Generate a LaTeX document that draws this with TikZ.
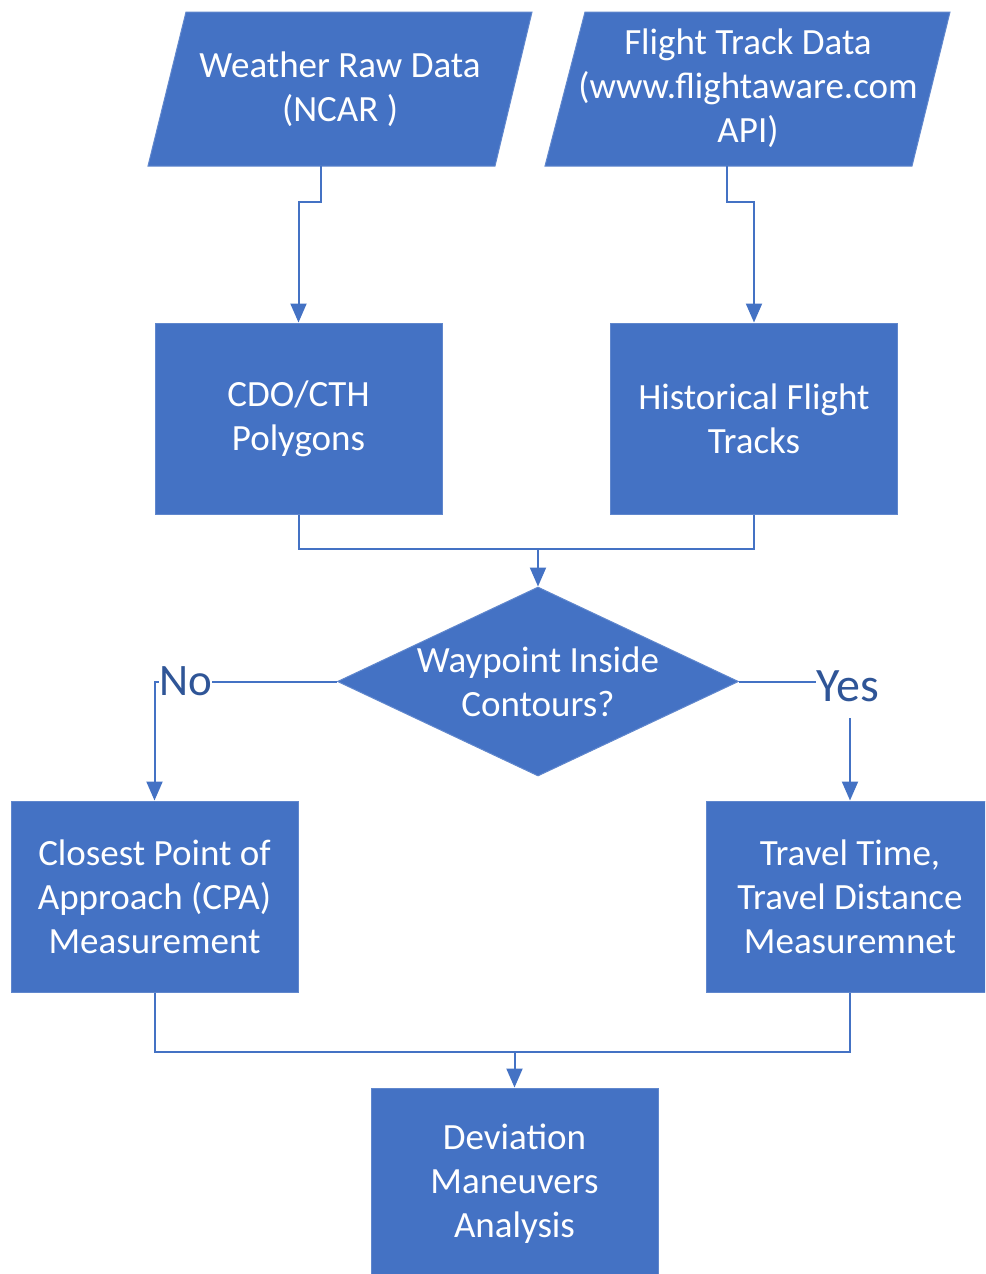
\documentclass[tikz,border=0pt]{standalone}
\usepackage{fontspec}
\setmainfont{Carlito}
\usetikzlibrary{arrows.meta,shapes.geometric}
\definecolor{oblue}{HTML}{4472C4}
\definecolor{lblue}{HTML}{2F5597}
\begin{document}
\begin{tikzpicture}[x=1pt,y=-1pt,
  shapefill/.style={fill=oblue,draw=oblue!85!white,line width=1},
  box/.style={shapefill,rectangle,minimum width=287,minimum height=191,inner sep=0,
     text=white,align=center,font=\fontsize{37}{44}\selectfont},
  txt/.style={text=white,align=center,inner sep=0,font=\fontsize{37}{44}\selectfont},
  conn/.style={draw=oblue,line width=2},
  arr/.style={conn,-{Triangle[length=19,width=16]}},
  lab/.style={fill=white,text=lblue,inner sep=0}]
\clip (0,0) rectangle (985,1274);
\fill[white] (0,0) rectangle (985,1274);
% input parallelograms
\fill[shapefill] (148,166) -- (186,12) -- (532,12) -- (495,166) -- cycle;
\node[txt] (wx) at (340,89) {Weather Raw Data\\(NCAR )};
\fill[shapefill] (545,166) -- (585,12) -- (950,12) -- (912,166) -- cycle;
\node[txt] (ft) at (748,88) {Flight Track Data\\(www.flightaware.com\\API)};
\coordinate (wxb) at (321,166);
\coordinate (ftb) at (727,166);
% process boxes
\node[box] (cdo) at (298.5,418.5) {CDO/CTH\\Polygons};
\node[box] (hist) at (754,418.5) {Historical Flight\\Tracks};
\node[diamond,shapefill,minimum width=401,minimum height=189,inner sep=0] (dia) at (538,681.5) {};
\node[txt] (diat) at (dia.center) {Waypoint Inside\\Contours?};
\node[box] (cpa) at (154.5,896.5) {Closest Point of\\Approach (CPA)\\Measurement};
\node[box] (trv) at (850,896.5) {Travel Time,\\Travel Distance\\Measuremnet};
\node[box] (dev) at (514.5,1183.5) {Deviation\\Maneuvers\\Analysis};
% connectors
\draw[arr] (wxb) -- ++(0,36) -| (cdo.north);
\draw[arr] (ftb) -- ++(0,36) -| (hist.north);
\coordinate (m1) at (538,549);
\draw[conn] (cdo.south) |- (m1) -| (hist.south);
\draw[arr] (m1) -- (dia.north);
\draw[arr] (dia.west) -| (cpa.north);
\node[lab,anchor=base west,font=\fontsize{45}{50}\selectfont,inner ysep=2] (no) at (159,695) {No};
\draw[arr] (dia.east) -| (trv.north);
\node[lab,anchor=base west,font=\fontsize{48}{54}\selectfont,text depth=17] (yes) at (816,701) {Yes};
\coordinate (m2) at (514.5,1052);
\draw[conn] (cpa.south) |- (m2) -| (trv.south);
\draw[arr] (m2) -- (dev.north);
\end{tikzpicture}
\end{document}
